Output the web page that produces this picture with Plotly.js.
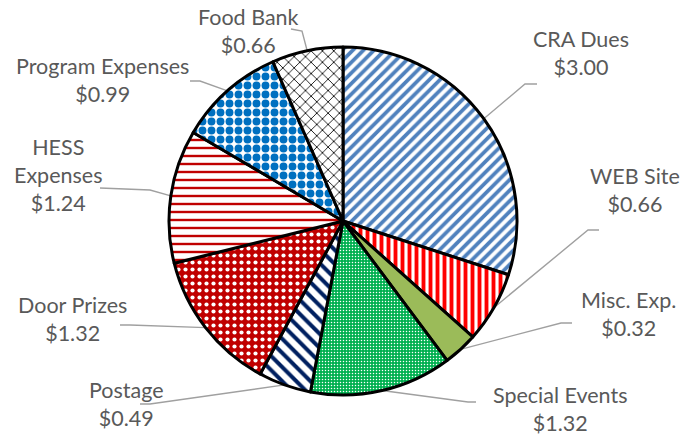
<!DOCTYPE html>
<html>
<head>
<meta charset="utf-8">
<script src="https://cdn.plot.ly/plotly-3.0.1.min.js"></script>
<style>html,body{margin:0;padding:0;background:#fff;}#chart{width:695px;height:437px;}</style>
</head>
<body>
<div id="chart"></div>
<script>
// ---- data ----
const categories = ['CRA Dues','WEB Site','Misc. Exp.','Special Events','Postage','Door Prizes','HESS Expenses','Program Expenses','Food Bank'];
const labelText = ['CRA Dues','WEB Site','Misc. Exp.','Special Events','Postage','Door Prizes','HESS<br>Expenses','Program Expenses','Food Bank'];
const values = [3.00, 0.66, 0.32, 1.32, 0.49, 1.32, 1.24, 0.99, 0.66];

// ---- styles ----
const patShape   = ['/', '|', '', '.', '\\', '.', '-', '.', 'x'];
const patFg      = ['#4F81BD','#FF0000','#9BBB59','#FFFFFF','#002060','#FFFFFF','#C00000','#0070C0','#000000'];
const patBg      = ['#FFFFFF','#FFFFFF','#9BBB59','#00B050','#FFFFFF','#C00000','#FFFFFF','#FFFFFF','#FFFFFF'];
const patSize    = [7.5, 7, 8, 3, 10, 7, 8, 9, 8];
const patSolid   = [0.5, 0.55, 0.3, 0.2, 0.4, 0.28, 0.3, 0.6, 0.2];

// ---- layout geometry (pixels) ----
const W = 695, H = 437;
const cx = 343, cy = 221, R = 174;
const labelPos = [[581,53],[635,190],[628,314],[560,409],[126,404],[72,319],[58,175],[102,80],[248,31]];
const elbows = [
  [[525,84],[537,84]],
  [[588,230],[599,230]],
  [[561,323],[572,323]],
  [[468,402],[476,402]],
  [[150,404],[140,404]],
  [[130,325],[120,325]],
  [[150,190],[100,188]],
  [[200,81],[190,81]],
  [[302,31],[291,29]]
];

const px = x => x / W;
const py = y => 1 - y / H;

const total = values.reduce((a,b)=>a+b,0);
let cum = 0;
const shapes = [];
const annotations = [];
values.forEach((v,i) => {
  const mid = (cum + v/2) / total * 2 * Math.PI;
  cum += v;
  const ax = cx + R * Math.sin(mid);
  const ay = cy - R * Math.cos(mid);
  const pts = [[ax,ay]].concat(elbows[i]);
  const path = pts.map((p,k) => (k ? 'L' : 'M') + px(p[0]) + ',' + py(p[1])).join(' ');
  shapes.push({type:'path', xref:'paper', yref:'paper', path: path,
    line:{color:'#A0A0A0', width:1.4}, layer:'below'});
  annotations.push({xref:'paper', yref:'paper', x: px(labelPos[i][0]), y: py(labelPos[i][1]),
    xanchor:'center', yanchor:'middle', showarrow:false, align:'center',
    text: labelText[i] + '<br>$' + v.toFixed(2),
    font:{family:'Lato, "Open Sans", sans-serif', size:21.5, color:'#595959'}});
});

const trace = {
  type:'pie',
  labels: categories,
  values: values,
  sort:false,
  direction:'clockwise',
  rotation:0,
  textinfo:'none',
  hoverinfo:'skip',
  showlegend:false,
  domain:{x:[px(cx-R), px(cx+R)], y:[py(cy+R), py(cy-R)]},
  marker:{
    colors: patBg,
    line:{color:'#000000', width:3},
    pattern:{shape: patShape, fgcolor: patFg, bgcolor: patBg, size: patSize, solidity: patSolid, fillmode:'replace'}
  }
};

Plotly.newPlot('chart', [trace], {
  width: W, height: H,
  margin:{l:0,r:0,t:0,b:0},
  paper_bgcolor:'#FFFFFF',
  showlegend:false,
  shapes: shapes,
  annotations: annotations
}, {staticPlot:true});
</script>
</body>
</html>
